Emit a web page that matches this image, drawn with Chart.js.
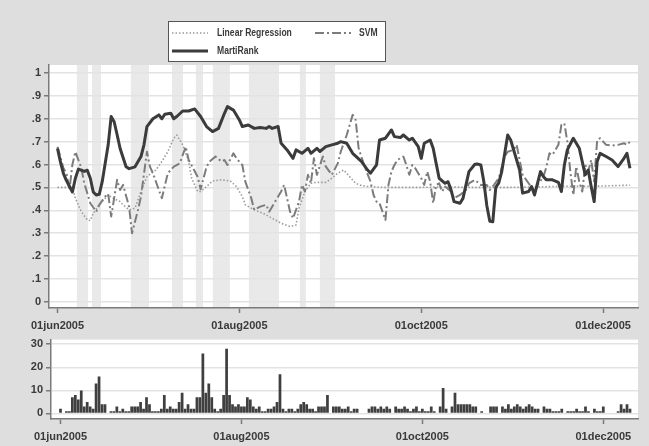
<!DOCTYPE html>
<html>
<head>
<meta charset="utf-8">
<script src="https://cdn.jsdelivr.net/npm/chart.js@4.4.1/dist/chart.umd.min.js"></script>
<style>
  html, body { margin: 0; padding: 0; background: #dedede; }
  #wrap { position: relative; width: 649px; height: 446px; background: #dedede; overflow: hidden; }
  #top { position: absolute; left: 0; top: 0; }
  #bottom { position: absolute; left: 0; top: 330px; }
</style>
</head>
<body>
<div id="wrap">
  <canvas id="top" width="649" height="336"></canvas>
  <canvas id="bottom" width="649" height="116"></canvas>
</div>
<script>
// Days are counted from 01jun2005 (day 0).
const xTickDays = [0, 61, 122, 183];
const xTickLabels = ['01jun2005', '01aug2005', '01oct2005', '01dec2005'];
const yTicksTop = [0, 0.1, 0.2, 0.3, 0.4, 0.5, 0.6, 0.7, 0.8, 0.9, 1];
const yTicksBottom = [0, 10, 20, 30];

// MartiRank
const mrDays = [0,1,2,3,5,6,7,9,10,11,12,13,14,15,17,18,19,20,21,23,24,26,28,29,30,32,34,35,36,38,39,40,42,44,46,48,50,52,54,56,57,59,61,62,64,66,68,70,71,72,74,75,77,79,80,82,84,85,87,88,90,92,94,95,97,99,102,104,105,107,108,110,112,113,115,116,118,119,121,122,123,125,126,127,128,130,131,132,133,135,136,138,140,141,142,143,144,145,146,147,148,149,151,152,154,155,156,158,159,160,162,163,164,166,168,169,170,171,173,175,176,177,178,179,180,181,182,184,186,188,190,191,192];
const mrValues = [.67,.61,.56,.53,.48,.54,.58,.57,.575,.54,.48,.467,.47,.525,.686,.81,.787,.73,.67,.59,.582,.59,.635,.686,.766,.80,.817,.80,.82,.824,.80,.81,.834,.834,.843,.81,.766,.744,.758,.824,.853,.838,.795,.766,.773,.758,.762,.758,.766,.758,.766,.693,.664,.627,.664,.649,.671,.649,.671,.657,.678,.686,.693,.70,.693,.649,.613,.576,.562,.598,.707,.715,.751,.722,.718,.729,.707,.715,.678,.627,.693,.707,.671,.605,.54,.518,.525,.489,.438,.431,.452,.569,.601,.602,.598,.525,.42,.352,.35,.50,.52,.569,.729,.707,.62,.576,.475,.482,.504,.467,.569,.547,.533,.533,.522,.482,.598,.664,.715,.671,.613,.555,.576,.504,.438,.613,.649,.635,.62,.591,.627,.649,.584];

// Linear Regression
const lrDays = [0,5,6,8,10,11,12,14,16,17,19,21,22,24,26,28,30,33,35,37,39,40,42,44,45,47,48,50,52,55,58,60,62,63,66,69,72,75,78,80,81,83,85,87,90,92,94,95,96,98,100,102,104,110,120,130,140,150,160,170,180,192];
const lrValues = [.50,.50,.453,.394,.358,.355,.387,.424,.453,.467,.45,.438,.424,.402,.409,.482,.547,.576,.613,.656,.715,.729,.686,.613,.54,.482,.482,.504,.528,.533,.528,.504,.46,.424,.402,.387,.365,.343,.329,.336,.409,.482,.518,.522,.522,.54,.562,.569,.576,.547,.518,.508,.504,.50,.50,.502,.50,.50,.502,.505,.505,.51];

// SVM
const svmDays = [0,2,3,4,5,6,8,9,11,13,14,16,17,18,20,21,22,24,25,27,28,30,31,32,35,37,38,39,41,43,44,47,48,50,51,53,55,56,57,59,60,62,63,65,66,68,70,71,73,75,76,77,78,79,81,82,83,84,85,86,87,89,90,92,94,95,97,99,100,101,103,105,106,107,108,109,110,111,112,113,114,116,117,118,119,120,122,123,124,125,126,127,128,129,130,132,133,135,137,138,140,142,144,145,146,148,150,151,153,154,155,156,158,160,161,163,164,165,166,168,169,170,171,172,173,174,175,176,177,178,179,180,181,182,184,186,188,190,191,192];
const svmValues = [.678,.584,.562,.489,.60,.656,.584,.518,.431,.394,.424,.46,.472,.373,.533,.489,.511,.416,.30,.402,.46,.656,.591,.562,.453,.562,.576,.591,.605,.678,.62,.547,.492,.59,.613,.635,.613,.62,.598,.649,.627,.598,.525,.453,.402,.416,.424,.394,.438,.482,.511,.453,.394,.365,.438,.511,.482,.555,.518,.627,.555,.635,.591,.555,.605,.656,.729,.817,.795,.671,.591,.525,.467,.438,.431,.394,.358,.511,.569,.598,.62,.635,.598,.555,.598,.584,.54,.511,.569,.525,.431,.511,.518,.482,.504,.482,.453,.467,.489,.518,.533,.511,.511,.489,.504,.54,.635,.656,.664,.686,.62,.555,.518,.482,.511,.547,.591,.649,.642,.686,.773,.78,.70,.569,.467,.591,.525,.482,.598,.569,.62,.525,.707,.715,.686,.683,.686,.693,.686,.70];

// Shaded periods (start day, end day)
const bandStarts = [6.5, 11.6, 24.6, 38.4, 46.4, 52.1, 64.2, 81.3, 88.0];
const bandEnds   = [10.2, 14.6, 30.7, 42.1, 48.8, 57.8, 74.3, 83.3, 93.1];

// Daily counts from day 0 (null = no observation)
const barCounts = [2,null,1,1,7,8,6,10,3,5,3,2,13,16,4,4,null,1,1,3,1,2,1,1,3,3,3,5,2,7,4,1,1,1,2,8,2,3,2,2,5,9,2,4,2,2,7,7,26,9,13,7,2,1,2,8,28,8,4,3,4,3,3,7,6,3,2,3,1,1,2,2,3,5,17,2,1,2,2,1,2,4,5,4,2,2,1,3,3,3,8,null,3,3,3,2,2,3,1,2,2,null,null,null,2,3,3,2,3,2,3,2,null,3,2,2,3,2,1,2,3,1,2,1,1,3,1,null,3,11,2,null,3,9,4,4,4,4,4,3,3,null,1,null,null,3,3,3,null,3,2,4,2,3,4,3,2,3,4,3,2,2,null,3,2,2,1,1,1,2,null,1,1,1,2,1,1,3,1,null,2,1,1,3,null,null,null,null,1,4,2,4,2];

const legendItems = ['Linear Regression', 'SVM', 'MartiRank'];

const pts = (days, vals) => days.map((d, i) => ({ x: d, y: vals[i] }));
const tickFont = { family: "'Liberation Sans', Arial, sans-serif", size: 11, weight: 'bold' };
const axisColor = '#7a7a7a';
const labelColor = '#3a3a3a';

const setTicks = list => scale => { scale.ticks = list.map(v => ({ value: v })); };
const decimalLabel = v => (v === 0 || v === 1) ? String(v) : v.toFixed(1).replace(/^0/, '');

// white plotting area, plus optional shaded periods
const backdrop = {
  id: 'backdrop',
  beforeDraw(chart, args, opts) {
    const { ctx, chartArea: a, scales } = chart;
    ctx.save();
    ctx.fillStyle = '#ffffff';
    ctx.fillRect(a.left, a.top, a.right - a.left, a.bottom - a.top);
    if (opts.starts) {
      ctx.fillStyle = '#e9e9e9';
      opts.starts.forEach((s, i) => {
        const x1 = scales.x.getPixelForValue(s);
        const x2 = scales.x.getPixelForValue(opts.ends[i]);
        ctx.fillRect(x1, a.top, x2 - x1, a.bottom - a.top);
      });
    }
    ctx.restore();
  }
};

// boxed two-column legend above the plot
const boxLegend = {
  id: 'boxLegend',
  afterDraw(chart) {
    const { ctx } = chart;
    const ds = chart.data.datasets;
    const box = { l: 168.5, t: 21.5, r: 385.5, b: 61.5 };
    ctx.save();
    ctx.fillStyle = '#ffffff';
    ctx.fillRect(box.l, box.t, box.r - box.l, box.b - box.t);
    ctx.strokeStyle = '#555555';
    ctx.lineWidth = 1;
    ctx.strokeRect(box.l, box.t, box.r - box.l, box.b - box.t);
    const slots = [
      { x: 172, w: 36, tx: 217, y: 33 },
      { x: 315, w: 36, tx: 359, y: 33 },
      { x: 172, w: 36, tx: 217, y: 51 }
    ];
    legendItems.forEach((name, i) => {
      const d = ds.find(s => s.label === name);
      const s = slots[i];
      ctx.strokeStyle = d.borderColor;
      ctx.lineWidth = d.borderWidth;
      ctx.setLineDash(d.borderDash || []);
      ctx.beginPath();
      ctx.moveTo(s.x, s.y);
      ctx.lineTo(s.x + s.w, s.y);
      ctx.stroke();
      ctx.setLineDash([]);
      // narrow bold face: condense the glyphs horizontally
      ctx.save();
      ctx.translate(s.tx, s.y);
      ctx.scale(0.78, 1);
      ctx.fillStyle = labelColor;
      ctx.font = "bold 11px 'Liberation Sans', Arial, sans-serif";
      ctx.textBaseline = 'middle';
      ctx.textAlign = 'left';
      ctx.fillText(name, 0, 0);
      ctx.restore();
    });
    ctx.restore();
  }
};

new Chart(document.getElementById('top'), {
  type: 'line',
  data: {
    datasets: [
      { label: 'MartiRank', data: pts(mrDays, mrValues), borderColor: '#3b3b3b', borderWidth: 3, order: 0 },
      { label: 'SVM', data: pts(svmDays, svmValues), borderColor: '#7c7c7c', borderWidth: 2, borderDash: [9, 3, 2, 3], order: 1 },
      { label: 'Linear Regression', data: pts(lrDays, lrValues), borderColor: '#9a9a9a', borderWidth: 1.6, borderDash: [1.5, 2], order: 2 }
    ]
  },
  options: {
    responsive: false,
    animation: false,
    events: [],
    elements: { point: { radius: 0 }, line: { tension: 0, borderJoinStyle: 'round' } },
    layout: { padding: { top: 65, right: 11, left: 0, bottom: 0 } },
    plugins: {
      legend: { display: false },
      tooltip: { enabled: false },
      backdrop: { starts: bandStarts, ends: bandEnds }
    },
    scales: {
      x: {
        type: 'linear', min: -2.85, max: 194.7,
        afterBuildTicks: setTicks(xTickDays),
        afterFit: s => { s.height = 28; },
        ticks: { callback: v => xTickLabels[xTickDays.indexOf(v)], font: tickFont, color: labelColor, padding: 6, maxRotation: 0, autoSkip: false },
        grid: { drawOnChartArea: false, drawTicks: true, tickLength: 5, tickColor: axisColor, tickWidth: 1.5 },
        border: { color: axisColor, width: 1.5 }
      },
      y: {
        type: 'linear', min: -0.027, max: 1.035,
        afterBuildTicks: setTicks(yTicksTop),
        afterFit: s => { s.width = 49; },
        ticks: { callback: decimalLabel, font: tickFont, color: labelColor, padding: 3 },
        grid: { color: '#e3e3e3', lineWidth: 1.5, tickLength: 5, tickColor: axisColor, tickWidth: 1.5 },
        border: { color: axisColor, width: 1.5 }
      }
    }
  },
  plugins: [backdrop, boxLegend]
});

new Chart(document.getElementById('bottom'), {
  type: 'bar',
  data: {
    datasets: [{
      label: 'Count',
      data: barCounts.map((v, i) => ({ x: i, y: v })).filter(p => p.y !== null),
      backgroundColor: '#3f3f3f',
      borderWidth: 0,
      barPercentage: 0.92,
      categoryPercentage: 1
    }]
  },
  options: {
    responsive: false,
    animation: false,
    events: [],
    layout: { padding: { top: 3, right: 11, left: 0, bottom: 0 } },
    plugins: { legend: { display: false }, tooltip: { enabled: false }, backdrop: {} },
    scales: {
      x: {
        type: 'linear', min: -3.2, max: 194.7, offset: false,
        afterBuildTicks: setTicks(xTickDays),
        afterFit: s => { s.height = 27; },
        ticks: { callback: v => xTickLabels[xTickDays.indexOf(v)], font: tickFont, color: labelColor, padding: 6, maxRotation: 0, autoSkip: false },
        grid: { drawOnChartArea: false, drawTicks: true, tickLength: 5, tickColor: axisColor, tickWidth: 1.5, offset: false },
        border: { color: axisColor, width: 1.5 }
      },
      y: {
        type: 'linear', min: -2.4, max: 32,
        afterBuildTicks: setTicks(yTicksBottom),
        afterFit: s => { s.width = 51; },
        ticks: { font: tickFont, color: labelColor, padding: 3 },
        grid: { color: '#e3e3e3', lineWidth: 1.5, tickLength: 5, tickColor: axisColor, tickWidth: 1.5 },
        border: { color: axisColor, width: 1.5 }
      }
    }
  },
  plugins: [backdrop]
});
</script>
</body>
</html>
